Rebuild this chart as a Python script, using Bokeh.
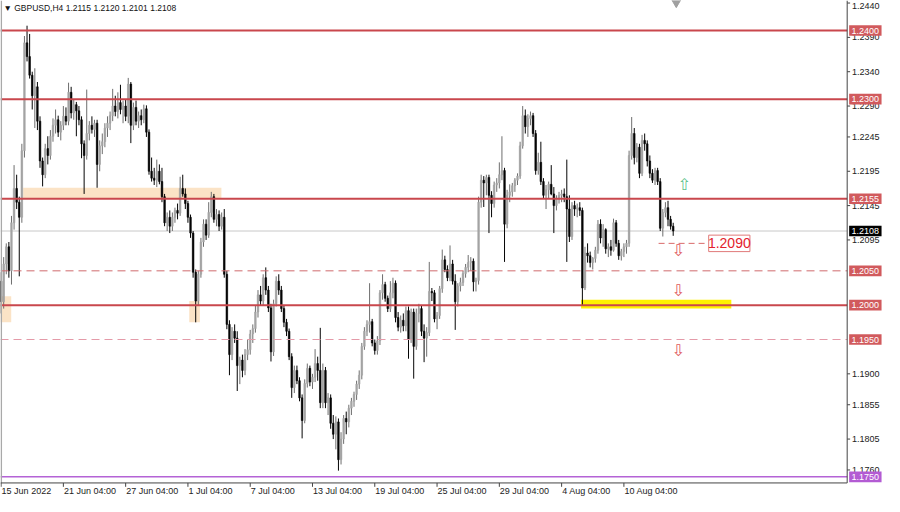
from bokeh.plotting import figure
from bokeh.models import Range1d, ColumnDataSource
from bokeh.embed import file_html
from bokeh.resources import INLINE
from bokeh.core.properties import value

# ---------------- data (GBPUSD H4, prices in 1/10000) ----------------
opens_pips = [
12035,12005,12060,12085,12050,12120,12170,12150,12128,12225,12382,12362,12335,12305,12318,12268,12210,12190,12228,12218,
12246,12262,12270,12252,12262,12275,12268,12310,12280,12292,12283,12270,12235,12218,12250,12262,12256,12265,12205,12232,
12238,12258,12265,12276,12290,12282,12295,12285,12290,12275,12322,12262,12288,12268,12276,12270,12286,12252,12195,12185,
12182,12195,12180,12158,12120,12128,12115,12128,12138,12134,12170,12162,12148,12128,12105,12048,12006,12045,12092,12118,
12102,12135,12158,12125,12132,12115,12128,12045,11972,11928,11962,11952,11912,11920,11905,11928,11935,11958,11966,11990,
12015,12006,12040,12022,11996,11932,12002,12035,12022,11995,11975,11962,11925,11880,11905,11890,11865,11832,11886,11908,
11888,11895,11915,11905,11858,11905,11858,11865,11828,11812,11830,11775,11805,11835,11830,11850,11860,11870,11885,11898,
11940,11962,11972,11976,11945,11934,11948,12018,12030,12010,11995,12018,12032,11982,11968,11978,11970,11992,11950,11990,
11940,11988,11995,11962,11952,11960,12020,12018,11980,11985,12024,12066,12052,12040,12060,12035,12005,12028,12033,12046,
12055,12062,12064,12034,12036,12150,12182,12178,12186,12160,12148,12175,12178,12190,12196,12118,12160,12165,12174,12182,
12188,12232,12276,12260,12272,12276,12250,12196,12208,12180,12160,12168,12176,12162,12145,12155,12160,12162,12158,12140,
12100,12145,12140,12142,12138,12025,12076,12072,12062,12068,12080,12118,12098,12110,12082,12085,12080,12120,12090,12072,
12078,12085,12090,12218,12250,12215,12230,12192,12240,12235,12210,12192,12182,12196,12180,12112,12135,12142,12125,12115]
highs_pips = [
12048,12070,12090,12092,12130,12204,12190,12158,12235,12392,12407,12395,12340,12345,12325,12275,12215,12235,12246,12255,
12272,12285,12276,12268,12290,12288,12324,12318,12300,12296,12290,12275,12240,12314,12268,12275,12270,12270,12240,12250,
12265,12275,12282,12315,12305,12310,12321,12298,12300,12331,12325,12295,12298,12282,12285,12292,12291,12256,12215,12200,
12212,12205,12200,12162,12135,12138,12135,12142,12148,12187,12190,12170,12152,12132,12108,12052,12050,12098,12125,12125,
12150,12165,12162,12140,12138,12135,12140,12050,11978,11968,11972,11962,11925,11928,11936,11950,11964,11972,12000,12022,
12028,12045,12055,12028,12002,12008,12042,12045,12028,12000,11980,11966,11930,11912,11912,11895,11870,11892,11915,11912,
11900,11936,11925,11967,11915,11910,11872,11870,11840,11838,11835,11815,11840,11845,11855,11865,11874,11890,11905,11945,
11968,11978,12032,11980,11950,11955,12022,12045,12034,12014,12035,12040,12036,11990,11985,11988,11998,11998,11995,11995,
11995,12002,12000,11972,11968,12063,12025,12022,11990,12028,12081,12072,12058,12087,12066,12045,12032,12040,12050,12060,
12073,12070,12068,12040,12158,12190,12188,12190,12190,12166,12180,12185,12208,12246,12200,12168,12176,12178,12185,12192,
12238,12290,12285,12278,12282,12280,12255,12222,12238,12185,12175,12180,12204,12172,12160,12165,12168,12170,12212,12160,
12150,12152,12148,12150,12142,12085,12090,12078,12070,12085,12124,12125,12118,12112,12090,12095,12126,12124,12095,12082,
12090,12095,12225,12274,12258,12236,12235,12248,12250,12240,12218,12198,12200,12200,12185,12140,12150,12152,12130,12120]
lows_pips = [
11988,11995,12045,12040,12030,12110,12140,12042,12120,12215,12355,12330,12285,12258,12255,12200,12173,12185,12205,12212,
12238,12250,12245,12240,12255,12262,12262,12272,12270,12246,12262,12214,12162,12212,12240,12250,12245,12171,12195,12220,
12230,12245,12255,12268,12275,12272,12278,12265,12268,12265,12236,12255,12262,12258,12262,12265,12245,12190,12180,12175,
12172,12176,12150,12115,12108,12105,12108,12120,12125,12130,12158,12140,12120,12098,12040,11975,12000,12040,12085,12095,
12098,12128,12120,12115,12108,12110,12040,11965,11898,11920,11945,11875,11885,11895,11898,11920,11928,11945,11960,11982,
12000,12000,12015,11990,11918,11926,11998,12015,11990,11968,11955,11920,11865,11872,11885,11860,11806,11828,11880,11882,
11878,11888,11890,11850,11850,11850,11840,11820,11805,11790,11759,11768,11798,11812,11822,11840,11852,11862,11878,11892,
11935,11955,11960,11940,11928,11928,11942,12008,12005,11990,11990,12010,11975,11962,11960,11962,11962,11922,11945,11893,
11935,11975,11955,11917,11925,11955,12006,11975,11965,11980,12018,12048,12035,12035,12030,11964,11998,12020,12028,12040,
12048,12050,12020,12020,12030,12142,12143,12160,12105,12128,12142,12165,12170,12182,12063,12112,12150,12158,12165,12175,
12184,12228,12250,12245,12262,12245,12190,12190,12175,12155,12140,12155,12160,12105,12138,12148,12150,12150,12063,12092,
12095,12130,12128,12130,12000,12022,12062,12055,12052,12062,12075,12090,12085,12075,12070,12072,12078,12085,12066,12065,
12070,12075,12085,12212,12205,12208,12185,12188,12225,12202,12185,12178,12175,12175,12108,12100,12128,12115,12110,12101]
closes_pips = [
12005,12060,12085,12050,12120,12170,12150,12128,12225,12382,12362,12335,12305,12318,12268,12210,12190,12228,12218,12246,
12262,12270,12252,12262,12275,12268,12310,12280,12292,12283,12270,12235,12218,12250,12262,12256,12265,12205,12232,12238,
12258,12265,12276,12290,12282,12295,12285,12290,12275,12322,12262,12288,12268,12276,12270,12286,12252,12195,12185,12182,
12195,12180,12158,12120,12128,12115,12128,12138,12134,12170,12162,12148,12128,12105,12048,12006,12045,12092,12118,12102,
12135,12158,12125,12132,12115,12128,12045,11972,11928,11962,11952,11912,11920,11905,11928,11935,11958,11966,11990,12015,
12006,12040,12022,11996,11932,12002,12035,12022,11995,11975,11962,11925,11880,11905,11890,11865,11832,11886,11908,11888,
11895,11915,11905,11858,11905,11858,11865,11828,11812,11830,11775,11805,11835,11830,11850,11860,11870,11885,11898,11940,
11962,11972,11976,11945,11934,11948,12018,12030,12010,11995,12018,12032,11982,11968,11978,11970,11992,11950,11990,11940,
11988,11995,11962,11952,11960,12020,12018,11980,11985,12024,12066,12052,12040,12060,12035,12005,12028,12033,12046,12055,
12062,12064,12034,12036,12150,12182,12178,12186,12160,12148,12175,12178,12190,12196,12118,12160,12165,12174,12182,12188,
12232,12276,12260,12272,12276,12250,12196,12208,12180,12160,12168,12176,12162,12145,12155,12160,12162,12158,12140,12100,
12145,12140,12142,12138,12025,12076,12072,12062,12068,12080,12118,12098,12110,12082,12085,12080,12120,12090,12072,12078,
12085,12090,12218,12250,12215,12230,12192,12240,12235,12210,12192,12182,12196,12180,12112,12135,12142,12125,12115,12108]

time_tick_bars = [0, 24, 48, 72, 96, 120, 144, 168, 192, 216, 240]
time_tick_labels = ["15 Jun 2022", "21 Jun 04:00", "27 Jun 04:00", "1 Jul 04:00", "7 Jul 04:00",
                    "13 Jul 04:00", "19 Jul 04:00", "25 Jul 04:00", "29 Jul 04:00", "4 Aug 04:00", "10 Aug 04:00"]
price_ticks = [1.2440, 1.2390, 1.2340, 1.2290, 1.2245, 1.2195, 1.2145, 1.2095,
               1.1900, 1.1855, 1.1805, 1.1760]

solid_levels = [1.2400, 1.2300, 1.2155, 1.2000]
dashed_levels = [1.2050]
light_dashed_levels = [1.1950]
current_price = 1.2108
purple_level = 1.1750
target_level = 1.2090
title_text = "\u25bc GBPUSD,H4  1.2115 1.2120 1.2101 1.2108"

# zones: (left bar, right bar, bottom price, top price)
supply_zone = (8.5, 84.9, 1.2155, 1.2171)
small_zones = [(-0.3, 3.9, 1.1975, 1.2013), (72.5, 76.6, 1.1975, 1.2006)]
yellow_zone = (223.5, 281.4, 1.1995, 1.2008)

# ---------------- reference-pixel helpers ----------------
REF_X0, REF_BAR_PX = 0.6, 2.642
REF_Y_ANCHOR, REF_PRICE_ANCHOR, REF_PX_PER_UNIT = 314.5, 1.2000, 7088.0


def bx(px):
    return (px - REF_X0) / REF_BAR_PX


def py(px):
    return REF_PRICE_ANCHOR + (REF_Y_ANCHOR - px) / REF_PX_PER_UNIT


def dp(npx):
    return npx / REF_PX_PER_UNIT


FONT = value("Liberation Sans")
CHART_R = 862
CHART_B = 498

p = figure(width=884, height=496, output_backend="svg", toolbar_location=None,
           x_range=Range1d(bx(0), bx(900)), y_range=Range1d(py(512), py(0)),
           x_axis_location=None, y_axis_location=None, min_border=0,
           background_fill_color="white", border_fill_color="white")
p.outline_line_color = None
p.xgrid.visible = False
p.ygrid.visible = False

# zones
zl = [supply_zone[0]] + [z[0] for z in small_zones]
zr = [supply_zone[1]] + [z[1] for z in small_zones]
zb = [supply_zone[2]] + [z[2] for z in small_zones]
zt = [supply_zone[3]] + [z[3] for z in small_zones]
p.quad(left=zl, right=zr, bottom=zb, top=zt, fill_color="#fbe3c6", line_color=None)
p.quad(left=[yellow_zone[0]], right=[yellow_zone[1]], bottom=[yellow_zone[2]], top=[yellow_zone[3]],
       fill_color="#fff200", line_color=None)

# current price line (behind candles)
p.segment(x0=[bx(0)], x1=[bx(CHART_R)], y0=[current_price], y1=[current_price],
          line_color="#c8c8c8", line_width=1)

# candles
o = [v / 10000 for v in opens_pips]
h = [v / 10000 for v in highs_pips]
l = [v / 10000 for v in lows_pips]
c = [v / 10000 for v in closes_pips]
xs = list(range(len(o)))
tops = [max(a, b) for a, b in zip(o, c)]
bots = [min(a, b) for a, b in zip(o, c)]
fills = ["#a4a4a4" if cc >= oo else "#050505" for oo, cc in zip(o, c)]
wicks = ["#6e6e6e" if cc >= oo else "#050505" for oo, cc in zip(o, c)]
src = ColumnDataSource(dict(x=xs, h=h, l=l, top=tops, bot=bots, fill=fills, wick=wicks))
p.segment(x0="x", y0="l", x1="x", y1="h", line_color="wick", line_width=1, source=src)
p.vbar(x="x", width=0.62, top="top", bottom="bot", fill_color="fill", line_color="fill",
       line_width=0.6, source=src)


# level lines across the chart area
def hline(level, color, width, dash="solid"):
    p.segment(x0=[bx(0)], x1=[bx(CHART_R)], y0=[level], y1=[level], line_color=color,
              line_width=width, line_dash=dash)


for lv in solid_levels:
    hline(lv, "#c9474d", 2)
for lv in dashed_levels:
    hline(lv, "#cf6a6e", 1, "8 5")
for lv in light_dashed_levels:
    hline(lv, "#e49aa8", 1.2, "8 5")
hline(purple_level, "#b463d6", 1.5)

# left border strip
p.segment(x0=[bx(0.8)], x1=[bx(0.8)], y0=[py(0)], y1=[py(CHART_B)], line_color="#a9a9a9",
          line_width=1.5)

# axes: right price axis and bottom time axis
p.segment(x0=[bx(CHART_R)], x1=[bx(CHART_R)], y0=[py(0)], y1=[py(CHART_B)],
          line_color="#444444", line_width=1)
p.segment(x0=[bx(0)], x1=[bx(CHART_R)], y0=[py(CHART_B)], y1=[py(CHART_B)],
          line_color="#444444", line_width=1)
p.segment(x0=[bx(CHART_R)] * len(price_ticks), x1=[bx(CHART_R + 3)] * len(price_ticks),
          y0=price_ticks, y1=price_ticks, line_color="#444444", line_width=1)
# keep the topmost label fully inside the canvas
label_y = [min(t, py(6)) for t in price_ticks]
p.text(x=[bx(CHART_R + 5)] * len(price_ticks), y=label_y,
       text=[f"{t:.4f}" for t in price_ticks], text_font=FONT, text_font_size="9px",
       text_color="#222222", text_align="left", text_baseline="middle")
p.segment(x0=time_tick_bars, x1=time_tick_bars, y0=[py(CHART_B)] * len(time_tick_bars),
          y1=[py(CHART_B + 4)] * len(time_tick_bars), line_color="#444444", line_width=1)
p.text(x=[t + 0.2 for t in time_tick_bars], y=[py(506)] * len(time_tick_bars),
       text=time_tick_labels, text_font=FONT, text_font_size="9px", text_color="#222222",
       text_align="left", text_baseline="middle")

# target dashed line + boxed label
p.segment(x0=[bx(670)], x1=[bx(721)], y0=[target_level], y1=[target_level],
          line_color="#d96a6a", line_width=1, line_dash="6 4")
p.quad(left=[bx(721)], right=[bx(763)], bottom=[target_level - dp(8.5)],
       top=[target_level + dp(8.5)], fill_color="white", line_color="#e07a7a", line_width=1)
p.text(x=[bx(742)], y=[target_level], text=[f"{target_level:.4f}"], text_font=FONT,
       text_font_size="14px", text_color="#e3222c", text_align="center", text_baseline="middle")

# arrows
p.text(x=[bx(696)], y=[py(190)], text=["\u21e7"], text_font=value("DejaVu Sans"),
       text_font_size="16px", text_color="#5cbf8a", text_align="center", text_baseline="middle")
p.text(x=[bx(690)] * 3, y=[py(258), py(299), py(361)], text=["\u21e9"] * 3,
       text_font=value("DejaVu Sans"), text_font_size="16px", text_color="#e0585c",
       text_align="center", text_baseline="middle")

# chart shift marker
p.scatter(x=[bx(688)], y=[py(2)], marker="inverted_triangle", size=9, fill_color="#a0a0a0",
          line_color="#a0a0a0")

# title
p.text(x=[bx(3)], y=[py(8)], text=[title_text], text_font=FONT, text_font_size="8.5px",
       text_color="#111111", text_align="left", text_baseline="middle")

# price boxes on the right axis
box_levels = solid_levels + dashed_levels + light_dashed_levels + [current_price, purple_level]
box_colors = ["#d15a5d"] * (len(solid_levels) + len(dashed_levels) + len(light_dashed_levels)) \
    + ["#000000", "#b35bd3"]
p.quad(left=[bx(864)] * len(box_levels), right=[bx(897)] * len(box_levels),
       bottom=[lv - dp(5.5) for lv in box_levels], top=[lv + dp(5.5) for lv in box_levels],
       fill_color=box_colors, line_color=None)
p.text(x=[bx(880.5)] * len(box_levels), y=box_levels, text=[f"{lv:.4f}" for lv in box_levels],
       text_font=FONT, text_font_size="9px", text_color="white", text_align="center",
       text_baseline="middle")

open("out.html", "w").write(file_html(p, INLINE))
